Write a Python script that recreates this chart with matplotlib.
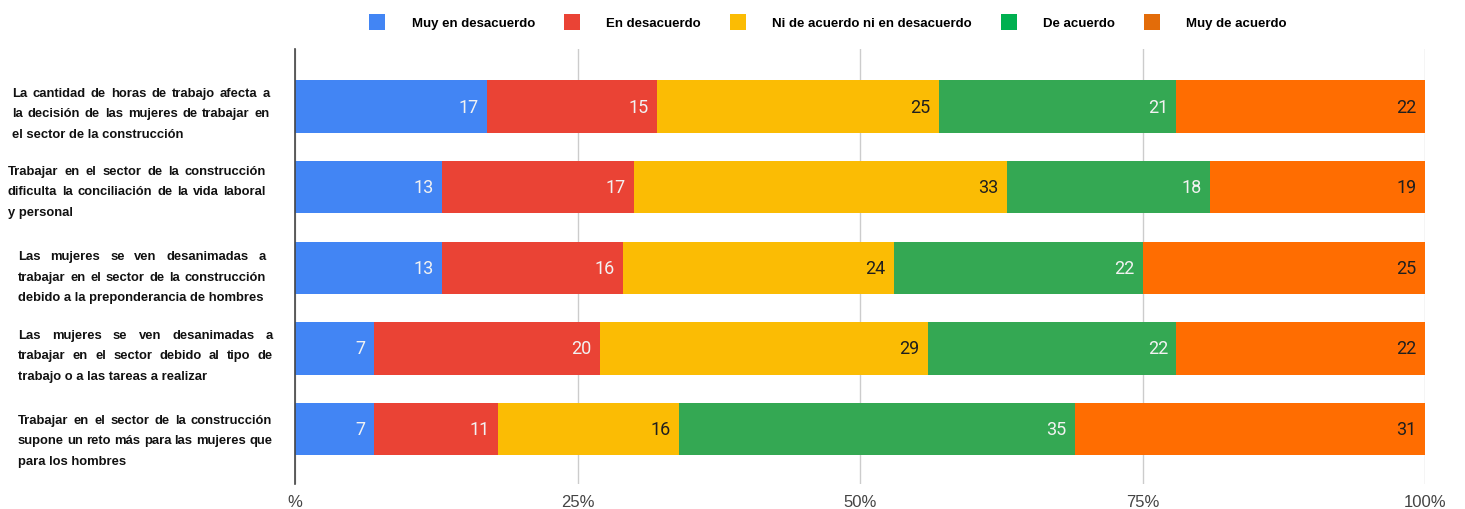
import matplotlib
matplotlib.use('Agg')
import matplotlib.pyplot as plt
import matplotlib.transforms as mtransforms
from matplotlib.patches import Patch
import numpy as np

# data
categories = [
    "La cantidad de horas de trabajo afecta a\nla decisión de las mujeres de trabajar en\nel sector de la construcción",
    "Trabajar en el sector de la construcción\ndificulta la conciliación de la vida laboral\ny personal",
    "Las mujeres se ven desanimadas a\ntrabajar en el sector de la construcción\ndebido a la preponderancia de hombres",
    "Las mujeres se ven desanimadas a\ntrabajar en el sector debido al tipo de\ntrabajo o a las tareas a realizar",
    "Trabajar en el sector de la construcción\nsupone un reto más para las mujeres que\npara los hombres",
]
series_names = ["Muy en desacuerdo", "En desacuerdo", "Ni de acuerdo ni en desacuerdo",
                "De acuerdo", "Muy de acuerdo"]
muy_desacuerdo = [17, 13, 13, 7, 7]
desacuerdo = [15, 17, 16, 20, 11]
neutral = [25, 33, 24, 29, 16]
acuerdo = [21, 18, 22, 22, 35]
muy_acuerdo = [22, 19, 25, 22, 31]
tick_vals = [0, 25, 50, 75, 100]
tick_labels = ["%", "25%", "50%", "75%", "100%"]

colors = ["#4285f4", "#ea4335", "#fbbc04", "#34a853", "#ff6d01"]
legend_colors = ["#4285f4", "#ea4335", "#fbbc04", "#00b050", "#e36c09"]
text_colors = ["#f2f2f2", "#f2f2f2", "#1f1f1f", "#f2f2f2", "#1f1f1f"]

narrow = ['Liberation Sans', 'DejaVu Sans']

W, H = 1465, 510
fig = plt.figure(figsize=(W / 100, H / 100), dpi=100)
fig.patch.set_facecolor('white')
ax = fig.add_axes([295 / W, 25 / H, 1130 / W, 435 / H])

series = [muy_desacuerdo, desacuerdo, neutral, acuerdo, muy_acuerdo]
ypos = np.arange(len(categories))
left = np.zeros(len(categories))
for vals, col, tcol, name in zip(series, colors, text_colors, series_names):
    vals = np.array(vals)
    ax.barh(ypos, vals, left=left, height=0.645, color=col, label=name, zorder=3)
    for y, l, v in zip(ypos, left, vals):
        ax.annotate(str(v), xy=(l + v, y), xytext=(-6, 0), textcoords='offset points',
                    ha='right', va='center', color=tcol, fontsize=13,
                    family=['Roboto', 'DejaVu Sans'], zorder=4)
    left = left + vals

ax.set_xlim(0, 100)
ax.set_ylim(4.68, -0.713)
ax.set_xticks(tick_vals)
ax.set_xticklabels(tick_labels, family=narrow, fontsize=12, color='#444444')
ax.tick_params(axis='x', length=0, pad=7)
ax.set_yticks([])
for s in ['top', 'right', 'bottom']:
    ax.spines[s].set_visible(False)
ax.spines['left'].set_color('#444444')
ax.spines['left'].set_linewidth(1.2)
ax.spines['left'].set_zorder(5)
ax.grid(axis='x', color='#cccccc', linewidth=1, zorder=0)
ax.set_axisbelow(True)

# category labels, justified like the original
label_left = [12, 8, 18, 18, 18]
label_right = [270, 266, 266, 273, 272]
label_dy = [6.5, 4, 9, 7, 11]
line_h = 20.5
renderer = fig.canvas.get_renderer()
base = mtransforms.blended_transform_factory(fig.transFigure, ax.transData)
for i, lab in enumerate(categories):
    lines = lab.split('\n')
    n = len(lines)
    for j, line in enumerate(lines):
        dy = label_dy[i] + (j - (n - 1) / 2) * line_h
        tr = mtransforms.offset_copy(base, fig=fig, x=0, y=-dy, units='dots')
        kw = dict(transform=tr, ha='left', va='center', family=narrow,
                  fontweight='bold', fontsize=9.4, color='#111111')
        if j == n - 1:
            ax.text(label_left[i] / W, i, line, **kw)
            continue
        words = line.split(' ')
        objs = [ax.text(0, i, w, **kw) for w in words]
        widths = [o.get_window_extent(renderer).width for o in objs]
        span = label_right[i] - label_left[i]
        gap = max((span - sum(widths)) / (len(words) - 1), 2.5)
        x = label_left[i]
        for o, w in zip(objs, widths):
            o.set_x(x / W)
            x += w + gap

# legend
handles = [Patch(facecolor=c, edgecolor='none') for c in legend_colors]
fig.legend(handles, series_names, loc='center', bbox_to_anchor=(828 / W, 1 - 23 / H), ncol=5,
           frameon=False, handlelength=1.2, handleheight=1.5, handletextpad=2.0,
           columnspacing=2.2, prop={'family': narrow, 'weight': 'bold', 'size': 9.5})

fig.savefig('out.png', dpi=100, facecolor='white')
